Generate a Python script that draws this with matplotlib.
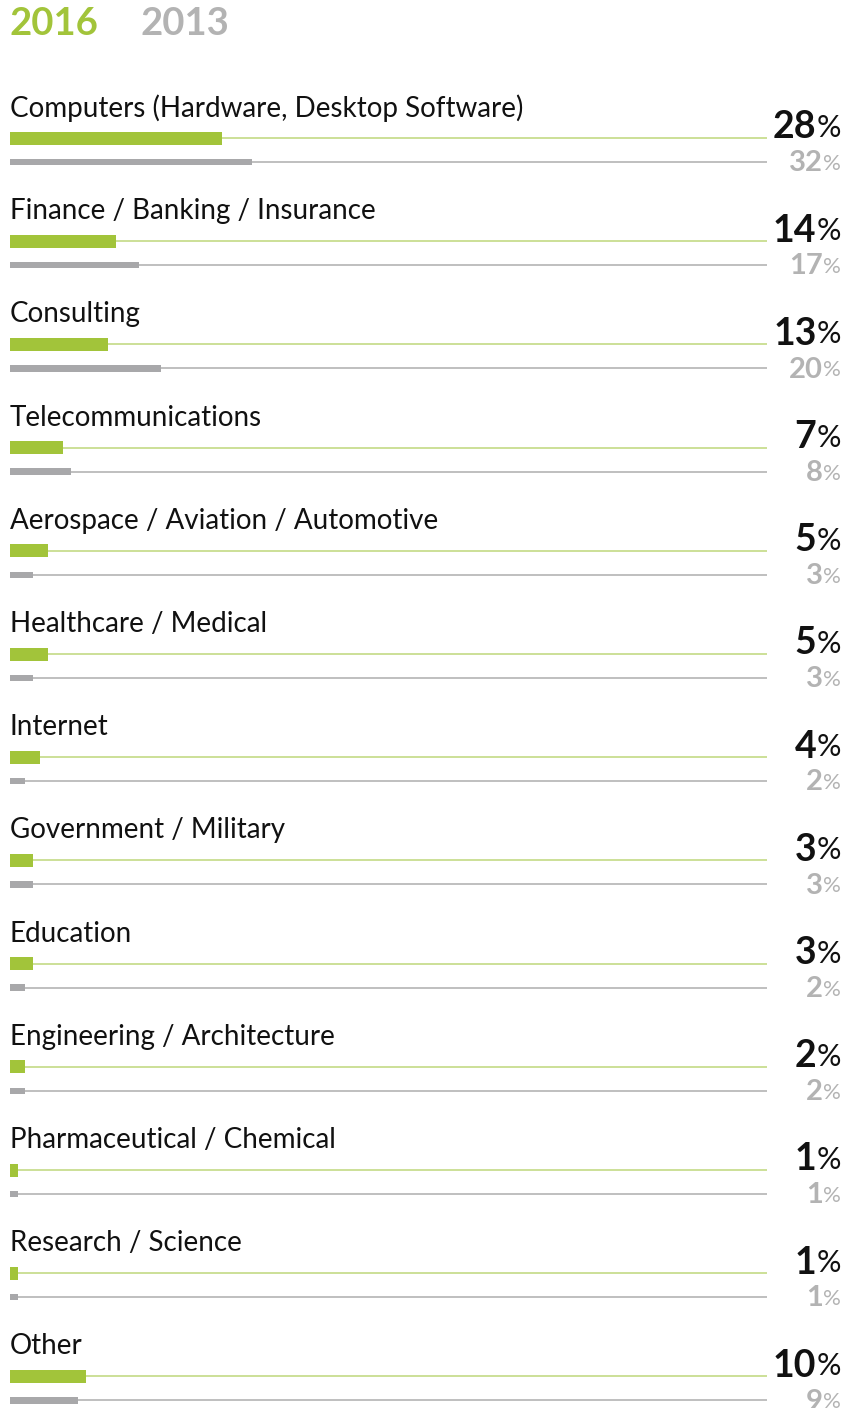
import matplotlib.pyplot as plt
from matplotlib.transforms import blended_transform_factory

# ---- data ----
categories = [
    "Computers (Hardware, Desktop Software)",
    "Finance / Banking / Insurance",
    "Consulting",
    "Telecommunications",
    "Aerospace / Aviation / Automotive",
    "Healthcare / Medical",
    "Internet",
    "Government / Military",
    "Education",
    "Engineering / Architecture",
    "Pharmaceutical / Chemical",
    "Research / Science",
    "Other",
]
share_2016 = [28, 14, 13, 7, 5, 5, 4, 3, 3, 2, 1, 1, 10]
share_2013 = [32, 17, 20, 8, 3, 3, 2, 3, 2, 2, 1, 1, 9]
years = ["2016", "2013"]

GREEN = "#a2c43a"
GREEN_LINE = "#c8dd8f"
GRAY = "#a8a8aa"
GRAY_LINE = "#b4b4b4"
GRAY_TXT = "#b3b3b3"
FONT = "Lato"

W, H = 845, 1408
fig = plt.figure(figsize=(W / 100, H / 100), dpi=100)
# axes: x 0..100 % spans pixels 10..767, y in pixels from top
ax = fig.add_axes([10 / W, 0, (767 - 10) / W, 1])
ax.set_xlim(0, 100)
ax.set_ylim(H, 0)
ax.axis("off")

pitch = 103.2
label_y = [108 + i * pitch for i in range(len(categories))]
green_y = [y + 30 for y in label_y]
gray_y = [y + 54 for y in label_y]

# background track lines
ax.hlines(green_y, 0, 100, color=GREEN_LINE, lw=1.3, zorder=1)
ax.hlines(gray_y, 0, 100, color=GRAY_LINE, lw=1.2, zorder=1)

ax.barh(green_y, share_2016, height=13, left=0, color=GREEN, zorder=2)
ax.barh(gray_y, share_2013, height=6.5, left=0, color=GRAY, zorder=2)

for name, y in zip(categories, label_y):
    ax.text(0, y, name, fontsize=20, family=FONT, color="#111111",
            va="center", ha="left")

# value labels at the right edge
tr = blended_transform_factory(fig.transFigure, ax.transData)
for v16, v13, yg, yr in zip(share_2016, share_2013, green_y, gray_y):
    p = ax.text(841 / W, yg - 1, "%", transform=tr, fontsize=22,
                family=FONT, color="#111111", ha="right", va="baseline")
    ax.annotate(str(v16), xy=(0, 0), xycoords=p, fontsize=27,
                family=FONT, fontweight="bold", color="#111111",
                ha="right", va="bottom", xytext=(0, -1.8),
                textcoords="offset points")
    q = ax.text(841 / W, yr + 8, "%", transform=tr, fontsize=16,
                family=FONT, color=GRAY_TXT, ha="right", va="baseline")
    ax.annotate(str(v13), xy=(0, 0), xycoords=q, fontsize=21,
                family=FONT, fontweight="bold", color=GRAY_TXT,
                ha="right", va="bottom", xytext=(0, -1.6),
                textcoords="offset points")

# header
fig.text(10 / W, 1 - 35 / H, years[0], fontsize=27.5, family=FONT,
         fontweight="bold", color=GREEN, ha="left", va="baseline")
fig.text(140 / W, 1 - 35 / H, years[1], fontsize=27.5, family=FONT,
         fontweight="bold", color=GRAY_TXT, ha="left", va="baseline")

fig.savefig("out.png", dpi=100, facecolor="white")
